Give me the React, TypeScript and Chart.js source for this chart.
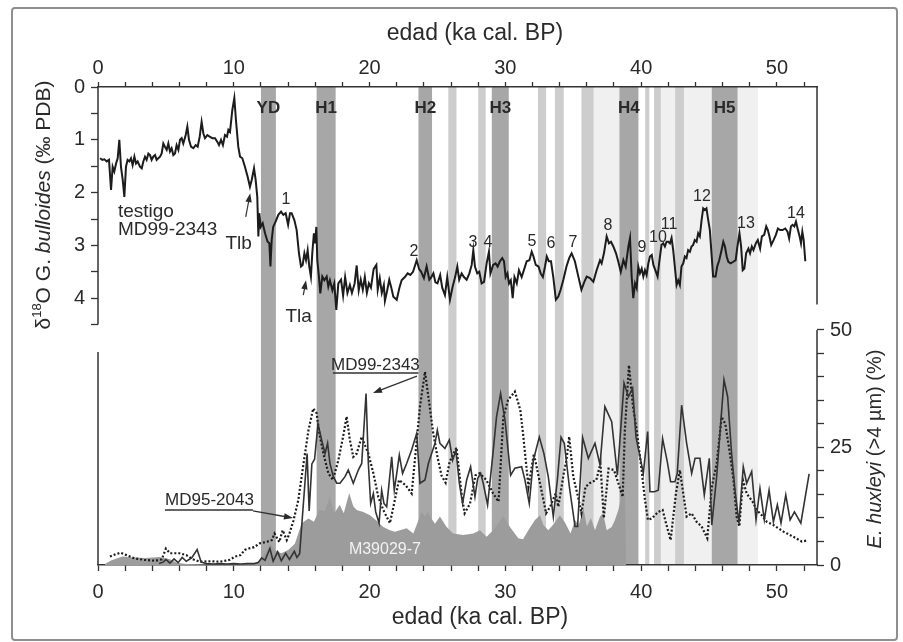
import React, { useEffect, useRef } from 'react';
import { Chart, registerables } from 'chart.js';

Chart.register(...registerables);

const FONT = '"Liberation Sans", Arial, Helvetica, sans-serif';
const INK = '#2a2a2a';

// ---- axes ----
const xMin = 0;
const xMax = 52.95;
const xTicks = [0, 2, 4, 6, 8, 10, 12, 14, 16, 18, 20, 22, 24, 26, 28, 30, 32, 34, 36, 38, 40, 42, 44, 46, 48, 50, 52];
const xTickLabels = [0, 10, 20, 30, 40, 50];

const d18Max = 9.053;
const d18Ticks = [0, 0.5, 1, 1.5, 2, 2.5, 3, 3.5, 4, 4.5];
const d18TickLabels = [0, 1, 2, 3, 4];

const huxMax = 101.7;
const huxTicks = [0, 5, 10, 15, 20, 25, 30, 35, 40, 45, 50];
const huxTickLabels = [0, 25, 50];

// ---- δ18O G. bulloides, core MD99-2343 ----
const d18Age = [
  0.15, 0.32, 0.47, 0.64, 0.81, 0.96, 1.08, 1.2, 1.33, 1.45, 1.57, 1.69, 1.82, 1.94, 2.06, 2.18, 2.31, 2.43, 2.55, 2.68,
  2.8, 2.92, 3.09, 3.22, 3.34, 3.46, 3.58, 3.71, 3.83, 3.95, 4.07, 4.2, 4.32, 4.44, 4.57, 4.69, 4.81, 4.93, 5.06, 5.18,
  5.3, 5.42, 5.55, 5.67, 5.79, 5.92, 6.04, 6.16, 6.28, 6.46, 6.58, 6.7, 6.85, 7.02, 7.19, 7.34, 7.49, 7.63, 7.76, 7.88,
  8.05, 8.22, 8.42, 8.62, 8.79, 8.91, 9.06, 9.2, 9.35, 9.5, 9.6, 9.72, 9.89, 10.04, 10.16, 10.33, 10.46, 10.63, 10.82, 11.02,
  11.19, 11.32, 11.49, 11.61, 11.73, 11.81, 11.88, 11.98, 12.13, 12.3, 12.49, 12.62, 12.7, 12.79, 12.9, 13.08, 13.28, 13.48, 13.65, 13.82,
  14.0, 14.14, 14.26, 14.46, 14.63, 14.8, 14.95, 15.07, 15.2, 15.32, 15.44, 15.56, 15.68, 15.78, 15.9, 15.98, 16.08, 16.15, 16.27, 16.37,
  16.52, 16.67, 16.84, 16.96, 17.08, 17.26, 17.4, 17.55, 17.7, 17.9, 18.05, 18.2, 18.37, 18.55, 18.7, 18.9, 19.05, 19.2, 19.35, 19.5,
  19.65, 19.8, 19.95, 20.1, 20.3, 20.5, 20.6, 20.75, 20.9, 21.05, 21.13, 21.3, 21.45, 21.6, 21.75, 22.0, 22.2, 22.36, 22.6, 22.8,
  23.0, 23.2, 23.47, 23.65, 23.8, 24.0, 24.2, 24.4, 24.55, 24.7, 24.85, 25.0, 25.2, 25.35, 25.55, 25.72, 25.92, 26.12, 26.3, 26.46,
  26.6, 26.78, 26.95, 27.15, 27.35, 27.52, 27.64, 27.76, 27.93, 28.08, 28.25, 28.43, 28.62, 28.79, 28.9, 29.1, 29.28, 29.43, 29.6, 29.77,
  29.9, 30.02, 30.15, 30.27, 30.4, 30.54, 30.67, 30.84, 31.0, 31.2, 31.4, 31.57, 31.77, 31.94, 32.07, 32.24, 32.44, 32.6, 32.76, 32.92,
  33.05, 33.2, 33.36, 33.53, 33.72, 33.9, 34.07, 34.27, 34.5, 34.7, 34.88, 35.12, 35.32, 35.6, 35.8, 35.99, 36.23, 36.48, 36.72, 36.97,
  37.09, 37.26, 37.46, 37.63, 37.78, 37.95, 38.15, 38.32, 38.5, 38.69, 38.86, 39.06, 39.18, 39.3, 39.42, 39.55, 39.67, 39.79, 39.91, 40.04,
  40.16, 40.28, 40.4, 40.53, 40.65, 40.78, 40.9, 41.09, 41.21, 41.34, 41.5, 41.63, 41.75, 41.87, 42.0, 42.12, 42.24, 42.36, 42.48, 42.61,
  42.73, 42.85, 42.97, 43.1, 43.22, 43.34, 43.46, 43.59, 43.71, 43.83, 43.95, 44.08, 44.2, 44.32, 44.45, 44.57, 44.69, 44.81, 44.94, 45.06,
  45.18, 45.3, 45.48, 45.6, 45.75, 45.92, 46.05, 46.17, 46.3, 46.42, 46.59, 46.79, 46.96, 47.09, 47.24, 47.36, 47.48, 47.6, 47.73, 47.9,
  48.02, 48.15, 48.27, 48.45, 48.59, 48.76, 48.89, 49.06, 49.21, 49.33, 49.45, 49.58, 49.75, 49.92, 50.07, 50.24, 50.41, 50.61, 50.78, 50.9,
  51.03, 51.15, 51.28, 51.4, 51.52, 51.67, 51.77, 51.87, 51.97, 52.09,
];
const d18Val = [
  1.35, 1.38, 1.37, 1.41, 1.38, 1.95, 1.51, 1.6, 1.45, 1.35, 1.0, 1.51, 1.76, 2.08, 1.51, 1.38, 1.41, 1.35, 1.48, 1.32,
  1.45, 1.41, 1.51, 1.54, 1.41, 1.32, 1.38, 1.26, 1.29, 1.38, 1.32, 1.29, 1.38, 1.35, 1.32, 1.26, 1.07, 1.13, 1.19, 1.07,
  1.22, 1.16, 1.29, 1.26, 1.1, 1.19, 1.0, 0.97, 1.07, 0.91, 0.75, 1.0, 1.13, 1.16, 1.1, 1.13, 0.94, 0.66, 0.88, 0.97,
  0.91, 0.94, 0.97, 0.97, 1.04, 1.1, 1.0, 1.1, 0.91, 0.94, 0.81, 0.85, 0.44, 0.21, 0.63, 1.13, 1.32, 1.35, 1.51, 1.7,
  1.89, 1.76, 1.54, 1.76, 2.08, 2.83, 2.39, 2.65, 2.58, 2.77, 2.93, 2.96, 3.4, 2.9, 2.65, 2.55, 2.42, 2.36, 2.42, 2.39,
  2.61, 2.39, 2.39, 2.52, 2.71, 3.15, 3.4, 3.37, 3.15, 3.28, 3.09, 3.4, 3.59, 3.15, 2.77, 2.96, 2.65, 3.28, 3.59, 3.91,
  3.59, 3.66, 3.59, 3.78, 3.66, 3.85, 3.72, 4.22, 3.72, 3.65, 3.95, 3.6, 3.9, 3.75, 3.9, 3.72, 3.38, 3.85, 3.65, 3.84,
  3.6, 3.9, 3.72, 3.8, 3.45, 3.37, 3.84, 3.62, 3.9, 3.75, 4.05, 3.85, 3.65, 3.8, 3.97, 4.03, 3.8, 3.66, 3.6, 3.53,
  3.56, 3.5, 3.28, 3.45, 3.5, 3.62, 3.4, 3.65, 3.6, 3.53, 3.7, 3.72, 3.56, 3.8, 3.94, 3.6, 4.03, 3.78, 3.6, 3.4,
  3.65, 3.53, 3.6, 3.65, 3.53, 3.37, 3.09, 3.4, 3.53, 3.5, 3.72, 3.69, 3.34, 3.12, 3.53, 3.37, 3.34, 3.4, 3.3, 3.24,
  3.3, 3.6, 3.53, 3.72, 3.66, 4.0, 3.6, 3.72, 3.47, 3.6, 3.44, 3.3, 3.28, 3.12, 3.21, 3.37, 3.4, 3.53, 3.6, 3.4,
  3.21, 3.3, 3.3, 3.6, 4.03, 3.97, 3.84, 3.65, 3.4, 3.24, 3.15, 3.3, 3.53, 3.84, 3.7, 3.59, 3.62, 3.69, 3.47, 3.28,
  3.34, 3.15, 2.83, 2.96, 2.93, 3.02, 3.15, 3.31, 3.5, 3.28, 3.4, 3.02, 2.86, 3.59, 4.0, 3.72, 3.81, 3.4, 3.53, 3.44,
  3.59, 3.47, 3.56, 3.34, 3.21, 3.18, 3.37, 3.5, 3.59, 3.3, 2.99, 2.96, 3.02, 2.93, 2.93, 2.96, 2.86, 3.09, 3.4, 3.75,
  3.66, 3.75, 3.4, 3.34, 3.21, 3.24, 3.09, 3.12, 3.02, 2.99, 2.9, 2.93, 2.77, 2.83, 2.52, 2.3, 2.33, 2.3, 2.52, 2.71,
  3.15, 3.59, 3.59, 3.4, 3.28, 3.09, 2.93, 3.02, 3.21, 3.31, 3.34, 3.31, 3.28, 3.02, 2.77, 3.02, 3.47, 3.44, 3.15, 3.06,
  3.15, 3.02, 3.09, 2.96, 2.9, 3.06, 2.83, 2.8, 2.64, 2.71, 2.83, 2.99, 2.9, 2.8, 2.68, 2.71, 2.71, 2.68, 2.74, 2.87,
  2.64, 2.61, 2.64, 2.55, 2.68, 2.83, 2.96, 2.74, 2.9, 3.3,
];

// ---- E. huxleyi (>4 µm) %, core MD99-2343 (solid) ----
const md99Age = [
  4.5, 4.8, 5.0, 5.3, 5.6, 5.9, 6.2, 6.5, 6.9, 7.3, 7.6, 8.0, 8.5, 9.0, 9.5, 10.0, 10.5, 11.0, 11.5, 11.8,
  12.05, 12.3, 12.66, 12.9, 13.23, 13.5, 13.82, 14.1, 14.46, 14.65, 14.85, 15.4, 15.55, 15.75, 15.95, 16.2, 16.47, 16.72, 16.91, 17.08,
  17.33, 17.58, 17.82, 18.19, 18.43, 18.8, 19.17, 19.42, 19.74, 19.91, 20.08, 20.28, 20.45, 20.7, 20.89, 21.06, 21.26, 21.63, 21.82, 22.0,
  22.19, 22.43, 22.73, 23.1, 23.47, 23.71, 24.08, 24.33, 24.57, 24.82, 24.99, 25.18, 25.55, 25.87, 26.12, 26.36, 26.61, 26.85, 27.15, 27.44,
  27.76, 27.96, 28.18, 28.37, 28.69, 29.06, 29.35, 29.65, 29.97, 30.39, 30.7, 31.2, 31.44, 31.76, 32.06, 32.5, 32.84, 33.16, 33.53, 33.83,
  34.1, 34.34, 34.71, 35.13, 35.32, 35.69, 36.11, 36.6, 36.97, 37.33, 37.83, 38.25, 38.74, 39.06, 39.37, 39.62, 39.87, 40.16, 40.48, 40.65,
  40.97, 41.26, 41.58, 41.93, 42.17, 42.49, 42.66, 42.98, 43.35, 43.72, 43.97, 44.33, 44.65, 45.02, 45.2, 45.56, 46.1, 46.37, 46.66, 46.91,
  47.2, 47.52, 47.77, 48.14, 48.46, 48.75, 49.07, 49.42, 49.74, 50.03, 50.3, 50.65, 50.97, 51.29, 51.76, 52.37,
];
const md99Val = [
  0.3, 0.6, 1.2, 0.4, 1.3, 0.5, 1.6, 0.8, 1.5, 3.3, 0.6, 0.3, 0.2, 0.3, 0.2, 0.3, 0.2, 0.3, 0.3, 0.5,
  1.5, 1.0, 3.5, 0.8, 2.8, 0.9, 2.5, 1.2, 2.9, 1.6, 2.4, 23.7, 11.5, 21.5, 22.5, 30.0, 26.6, 23.7, 25.9, 21.6,
  18.8, 17.4, 17.4, 18.8, 20.2, 17.4, 20.2, 21.6, 36.5, 21.6, 13.1, 15.2, 11.3, 8.9, 15.9, 13.1, 12.4, 23.0, 15.9, 19.5,
  23.4, 19.5, 21.6, 24.5, 28.0, 17.4, 18.1, 21.6, 23.7, 25.9, 28.7, 25.9, 24.8, 26.6, 22.3, 24.4, 17.4, 13.1, 18.1, 20.9,
  14.5, 18.4, 19.5, 17.4, 12.8, 23.0, 31.5, 36.5, 30.9, 19.1, 20.6, 20.9, 18.1, 13.1, 22.3, 27.2, 23.7, 18.8, 10.3, 18.1,
  27.2, 25.9, 16.7, 8.2, 8.2, 27.1, 22.7, 25.9, 21.3, 33.7, 30.5, 19.1, 38.7, 35.8, 37.6, 27.2, 23.7, 19.5, 28.4, 15.6,
  15.6, 15.9, 26.9, 21.9, 17.7, 17.7, 19.5, 34.0, 25.9, 19.5, 22.7, 22.7, 14.9, 22.7, 8.5, 18.8, 39.4, 35.8, 23.7, 15.9,
  8.9, 20.9, 17.4, 19.9, 9.6, 16.3, 9.6, 15.9, 9.2, 12.8, 8.9, 14.9, 9.6, 11.3, 8.9, 19.4,
];

// ---- E. huxleyi (>4 µm) %, core MD95-2043 (dotted) ----
const md95Age = [
  0.88, 1.3, 1.66, 2.1, 2.7, 3.4, 4.2, 4.7, 5.0, 5.3, 6.0, 6.5, 7.0, 7.5, 8.3, 9.0, 9.7, 10.1, 10.5, 10.8,
  11.1, 11.5, 11.9, 12.4, 12.8, 13.0, 13.35, 13.6, 13.9, 14.1, 14.4, 14.75, 15.1, 15.5, 15.85, 16.1, 16.3, 16.6, 16.97, 17.3,
  17.7, 18.05, 18.31, 18.55, 18.8, 19.05, 19.42, 19.6, 19.91, 20.28, 20.64, 21.01, 21.5, 22.17, 22.65, 23.1, 23.71, 24.08, 24.33, 24.69,
  25.0, 25.3, 25.6, 25.9, 26.4, 26.8, 27.0, 27.4, 27.8, 28.1, 28.6, 29.1, 29.5, 29.85, 30.2, 30.7, 31.1, 31.3, 31.7, 32.1,
  32.5, 32.8, 33.0, 33.3, 33.7, 33.9, 34.3, 34.5, 34.7, 35.0, 35.4, 35.6, 35.9, 36.2, 36.7, 37.0, 37.25, 37.6, 38.0, 38.3,
  38.64, 38.8, 39.1, 39.4, 39.67, 40.0, 40.28, 40.5, 40.78, 41.26, 41.58, 41.83, 42.17, 42.56, 42.85, 43.35, 43.72, 44.08, 44.45, 44.87,
  45.2, 45.56, 45.93, 46.2, 46.5, 46.8, 47.03, 47.23, 47.5, 47.77, 48.2, 48.51, 48.88, 49.25, 49.74, 50.48, 51.21, 51.83, 52.2,
];
const md95Val = [
  1.8, 2.3, 2.6, 2.1, 1.4, 1.1, 0.9, 1.2, 3.5, 2.5, 2.5, 2.1, 1.2, 0.7, 0.8, 0.7, 1.1, 1.8, 2.1, 3.2,
  3.5, 3.8, 4.6, 4.9, 5.3, 6.7, 4.9, 7.4, 5.3, 6.7, 9.5, 13.8, 20.9, 28.7, 33.3, 32.3, 28.0, 23.7, 19.5, 18.1,
  22.3, 27.3, 31.6, 26.6, 23.0, 23.7, 27.3, 25.9, 23.7, 19.5, 14.5, 11.7, 8.9, 18.1, 17.0, 15.2, 33.7, 41.1, 35.8, 28.0,
  23.0, 19.0, 17.5, 22.0, 25.0, 14.5, 11.0, 13.1, 19.1, 19.5, 18.1, 15.2, 13.5, 31.5, 35.1, 36.9, 33.0, 28.0, 16.6, 23.7,
  18.1, 13.9, 11.0, 12.4, 15.2, 12.4, 19.5, 22.3, 27.3, 18.8, 13.9, 11.0, 16.6, 17.4, 18.1, 21.6, 10.0, 20.5, 20.2, 17.6,
  14.5, 28.7, 42.5, 33.7, 28.7, 21.0, 13.9, 9.6, 9.9, 11.3, 11.7, 8.9, 5.3, 15.2, 20.2, 10.3, 11.0, 9.2, 8.2, 5.7,
  16.6, 21.6, 31.5, 30.0, 24.4, 18.1, 10.3, 8.2, 18.0, 15.2, 13.5, 11.7, 10.6, 9.2, 8.5, 7.1, 6.0, 5.0, 5.2,
];

// ---- E. huxleyi (>4 µm) %, core M39029-7 (grey area) ----
const m39Age = [
  0.5, 1.0, 1.8, 2.6, 3.5, 4.5, 5.3, 5.8, 6.5, 8.0, 11.5, 12.0, 12.7, 13.0, 13.5, 14.0, 14.5, 15.0, 15.5, 15.9,
  16.3, 16.7, 17.08, 17.4, 17.8, 18.1, 18.5, 18.8, 19.05, 19.54, 20.03, 20.52, 21.01, 21.5, 21.87, 22.24, 22.73, 23.22, 23.5, 23.83,
  24.08, 24.3, 24.45, 24.82, 25.18, 25.67, 26.16, 26.9, 27.64, 28.13, 28.62, 29.1, 29.85, 30.34, 30.95, 31.3, 31.69, 32.18, 32.55, 32.8,
  33.16, 33.5, 34.02, 34.4, 34.8, 35.13, 35.4, 35.75, 36.0, 36.3, 36.6, 36.97, 37.2, 37.46, 37.83, 38.07, 38.32, 38.56, 38.81, 38.9,
];
const m39Val = [
  0.2, 1.0, 1.8, 1.6, 1.5, 1.7, 1.2, 0.5, 0.2, 0.1, 0.2, 1.2, 4.5, 3.2, 2.5, 3.2, 4.5, 8.9, 9.9, 9.2,
  11.7, 11.5, 14.5, 11.0, 12.8, 11.0, 15.3, 12.5, 11.7, 11.3, 10.6, 9.4, 8.1, 7.4, 7.1, 7.4, 7.8, 6.7, 8.8, 11.3,
  10.3, 11.3, 10.3, 8.8, 10.3, 8.1, 6.7, 6.4, 6.7, 7.4, 6.0, 7.4, 10.3, 8.1, 5.7, 5.5, 7.4, 9.6, 10.6, 8.5,
  7.4, 8.5, 10.6, 9.0, 6.7, 9.6, 8.5, 12.1, 8.2, 10.0, 7.4, 10.3, 11.0, 7.4, 8.1, 9.6, 11.7, 14.5, 15.2, 0,
];

// ---- shaded intervals (ka): 0 = Heinrich/YD event, 1 = stadial band, 2 = faint band ----
const bandStart = [12.0, 16.1, 23.6, 29.0, 38.4, 45.2, 25.8, 28.0, 32.4, 33.65, 35.6, 40.3, 40.95, 42.5, 36.5, 41.45, 43.15, 47.1];
const bandEnd = [13.1, 17.5, 24.6, 30.25, 39.8, 47.1, 26.4, 28.55, 33.0, 34.3, 36.5, 40.6, 41.45, 43.15, 38.4, 42.5, 45.2, 48.6];
const bandKind = [0, 0, 0, 0, 0, 0, 1, 1, 1, 1, 1, 1, 1, 1, 2, 2, 2, 2];
const eventNames = ['YD', 'H1', 'H2', 'H3', 'H4', 'H5'];

// ---- numbered isotope events ----
const stageNames = ['1', '2', '3', '4', '5', '6', '7', '8', '9', '10', '11', '12', '13', '14'];
const stageAge = [13.84, 23.27, 27.61, 28.72, 31.96, 33.36, 34.98, 37.56, 40.06, 41.24, 42.05, 44.48, 47.72, 51.4];
const stageVal = [2.14, 3.11, 2.94, 2.94, 2.92, 2.97, 2.95, 2.63, 3.05, 2.86, 2.61, 2.08, 2.58, 2.39];

const pts = (xs: number[], ys: number[]) => xs.map((x, i) => ({ x, y: ys[i] }));

type Run = { t: string; size: number; style?: string; dy?: number };

function drawRuns(ctx: CanvasRenderingContext2D, runs: Run[], cx: number, cy: number, rot: number) {
  ctx.save();
  ctx.translate(cx, cy);
  ctx.rotate(rot);
  ctx.textBaseline = 'middle';
  ctx.textAlign = 'left';
  let total = 0;
  const widths = runs.map((r) => {
    ctx.font = `${r.style || ''} ${r.size}px ${FONT}`;
    const w = ctx.measureText(r.t).width;
    total += w;
    return w;
  });
  let x = -total / 2;
  runs.forEach((r, i) => {
    ctx.font = `${r.style || ''} ${r.size}px ${FONT}`;
    ctx.fillText(r.t, x, r.dy || 0);
    x += widths[i];
  });
  ctx.restore();
}

function arrow(ctx: CanvasRenderingContext2D, x1: number, y1: number, x2: number, y2: number) {
  const ang = Math.atan2(y2 - y1, x2 - x1);
  const L = 9;
  const W = 3.2;
  ctx.beginPath();
  ctx.moveTo(x1, y1);
  ctx.lineTo(x2 - Math.cos(ang) * L * 0.8, y2 - Math.sin(ang) * L * 0.8);
  ctx.stroke();
  ctx.beginPath();
  ctx.moveTo(x2, y2);
  ctx.lineTo(x2 - Math.cos(ang) * L - Math.sin(ang) * W, y2 - Math.sin(ang) * L + Math.cos(ang) * W);
  ctx.lineTo(x2 - Math.cos(ang) * L + Math.sin(ang) * W, y2 - Math.sin(ang) * L - Math.cos(ang) * W);
  ctx.closePath();
  ctx.fill();
}

const bandColors = ['#a7a7a7', '#cdcdcd', '#f0f0f0'];

const decor = {
  id: 'decor',
  beforeDraw(chart: any) {
    const { ctx, chartArea: a, scales } = chart;
    const x = scales.x;
    ctx.save();
    ctx.fillStyle = '#ffffff';
    ctx.fillRect(0, 0, chart.width, chart.height);
    // outer frame
    ctx.strokeStyle = '#8f8f8f';
    ctx.lineWidth = 2;
    ctx.beginPath();
    ctx.roundRect(12, 8, 885, 632, 3);
    ctx.stroke();
    // shaded bands (faint first)
    [2, 1, 0].forEach((kind) => {
      bandStart.forEach((s, i) => {
        if (bandKind[i] !== kind) return;
        const x0 = x.getPixelForValue(s);
        const x1 = x.getPixelForValue(bandEnd[i]);
        ctx.fillStyle = bandColors[kind];
        ctx.fillRect(x0, a.top, x1 - x0, a.bottom - a.top);
      });
    });
    ctx.restore();
  },
  afterDraw(chart: any) {
    const { ctx, chartArea: a, scales } = chart;
    const x = scales.x;
    const y1 = scales.y1;
    const y2 = scales.y2;
    ctx.save();
    // split vertical axis lines
    ctx.strokeStyle = '#333';
    ctx.lineWidth = 1.5;
    ctx.beginPath();
    ctx.moveTo(a.left, y1.getPixelForValue(0));
    ctx.lineTo(a.left, y1.getPixelForValue(4.5));
    ctx.moveTo(a.left, y2.getPixelForValue(45.3));
    ctx.lineTo(a.left, y2.getPixelForValue(0));
    ctx.moveTo(a.right, y1.getPixelForValue(0));
    ctx.lineTo(a.right, y1.getPixelForValue(4.12));
    ctx.moveTo(a.right, y2.getPixelForValue(50));
    ctx.lineTo(a.right, y2.getPixelForValue(0));
    ctx.stroke();

    ctx.fillStyle = INK;
    // axis titles
    drawRuns(ctx, [{ t: 'edad (ka cal. BP)', size: 23 }], 475, 34, 0);
    drawRuns(ctx, [{ t: 'edad (ka cal. BP)', size: 23 }], 480, 618, 0);
    drawRuns(
      ctx,
      [
        { t: 'δ', size: 21 },
        { t: '18', size: 13, dy: -7 },
        { t: 'O G. ', size: 21 },
        { t: 'bulloides', size: 21, style: 'italic' },
        { t: ' (‰ PDB)', size: 21 },
      ],
      44,
      205,
      -Math.PI / 2
    );
    drawRuns(
      ctx,
      [
        { t: 'E. huxleyi', size: 20, style: 'italic' },
        { t: ' (>4 µm) (%)', size: 20 },
      ],
      875,
      449,
      -Math.PI / 2
    );

    // event labels
    ctx.textAlign = 'center';
    ctx.textBaseline = 'middle';
    ctx.font = `bold 17px ${FONT}`;
    eventNames.forEach((n, i) => {
      const cx = x.getPixelForValue((bandStart[i] + bandEnd[i]) / 2);
      ctx.fillText(n, cx, y1.getPixelForValue(0.4));
    });
    // numbered events
    ctx.font = `16px ${FONT}`;
    stageNames.forEach((n, i) => {
      ctx.fillText(n, x.getPixelForValue(stageAge[i]), y1.getPixelForValue(stageVal[i]));
    });

    // core label (upper panel)
    ctx.font = `19px ${FONT}`;
    ctx.textAlign = 'left';
    ctx.fillText('testigo', x.getPixelForValue(1.47), y1.getPixelForValue(2.37));
    ctx.fillText('MD99-2343', x.getPixelForValue(1.47), y1.getPixelForValue(2.71));
    ctx.textAlign = 'center';
    ctx.fillText('Tlb', x.getPixelForValue(10.36), y1.getPixelForValue(2.96));
    ctx.fillText('Tla', x.getPixelForValue(14.78), y1.getPixelForValue(4.35));

    ctx.strokeStyle = '#333';
    ctx.lineWidth = 1.2;
    arrow(ctx, x.getPixelForValue(10.88), y1.getPixelForValue(2.46), x.getPixelForValue(11.21), y1.getPixelForValue(2.01));
    arrow(ctx, x.getPixelForValue(15.12), y1.getPixelForValue(3.94), x.getPixelForValue(15.32), y1.getPixelForValue(3.66));

    // lower panel labels
    ctx.font = `17px ${FONT}`;
    ctx.fillText('MD99-2343', x.getPixelForValue(20.43), y2.getPixelForValue(42.55));
    ctx.fillText('MD95-2043', x.getPixelForValue(8.21), y2.getPixelForValue(13.83));
    ctx.lineWidth = 1.3;
    ctx.beginPath();
    ctx.moveTo(x.getPixelForValue(17.3), y2.getPixelForValue(40.85));
    ctx.lineTo(x.getPixelForValue(23.6), y2.getPixelForValue(40.85));
    ctx.moveTo(x.getPixelForValue(4.93), y2.getPixelForValue(11.7));
    ctx.lineTo(x.getPixelForValue(11.41), y2.getPixelForValue(11.7));
    ctx.stroke();
    arrow(ctx, x.getPixelForValue(23.49), y2.getPixelForValue(40.2), x.getPixelForValue(20.25), y2.getPixelForValue(36.6));
    arrow(ctx, x.getPixelForValue(11.41), y2.getPixelForValue(11.5), x.getPixelForValue(14.36), y2.getPixelForValue(10.0));

    ctx.fillStyle = '#f2f2f2';
    ctx.font = `16px ${FONT}`;
    ctx.fillText('M39029-7', x.getPixelForValue(21.13), y2.getPixelForValue(3.2));
    ctx.restore();
  },
};

const tickFont = { family: FONT, size: 20 };

function xAxis(position: 'top' | 'bottom', height: number, padding: number, tickLength: number) {
  return {
    type: 'linear' as const,
    position,
    min: xMin,
    max: xMax,
    bounds: 'data' as const,
    afterBuildTicks: (s: any) => {
      s.ticks = xTicks.map((v) => ({ value: v }));
    },
    afterFit: (s: any) => {
      s.height = height;
    },
    ticks: {
      autoSkip: false,
      maxRotation: 0,
      padding,
      color: INK,
      font: tickFont,
      callback: (v: any) => (xTickLabels.includes(Number(v)) ? String(v) : ''),
    },
    grid: { display: true, drawOnChartArea: false, drawTicks: true, tickLength, tickColor: '#333', tickWidth: 1.3 },
    border: { display: true, color: '#333', width: 1.5 },
  };
}

export default function App() {
  const ref = useRef<HTMLCanvasElement>(null);
  useEffect(() => {
    if (!ref.current) return;
    const chart = new Chart(ref.current, {
      type: 'line',
      data: {
        datasets: [
          {
            label: 'δ18O MD99-2343',
            data: pts(d18Age, d18Val),
            xAxisID: 'x',
            yAxisID: 'y1',
            borderColor: '#1c1c1c',
            borderWidth: 2,
            pointRadius: 0,
            fill: false,
            tension: 0,
            order: 1,
          },
          {
            label: 'MD99-2343',
            data: pts(md99Age, md99Val),
            xAxisID: 'x',
            yAxisID: 'y2',
            borderColor: '#333333',
            borderWidth: 1.6,
            pointRadius: 0,
            fill: false,
            tension: 0,
            order: 2,
          },
          {
            label: 'MD95-2043',
            data: pts(md95Age, md95Val),
            xAxisID: 'x',
            yAxisID: 'y2',
            borderColor: '#1c1c1c',
            borderWidth: 2.2,
            borderDash: [2, 2],
            pointRadius: 0,
            fill: false,
            tension: 0,
            order: 3,
          },
          {
            label: 'M39029-7',
            data: pts(m39Age, m39Val),
            xAxisID: 'x',
            yAxisID: 'y2',
            borderColor: '#9c9c9c',
            borderWidth: 0,
            backgroundColor: '#9c9c9c',
            pointRadius: 0,
            fill: 'origin',
            tension: 0,
            order: 10,
          },
        ],
      },
      options: {
        animation: false,
        responsive: false,
        devicePixelRatio: 1,
        layout: { padding: 0 },
        plugins: { legend: { display: false }, tooltip: { enabled: false } },
        events: [],
        scales: {
          x: xAxis('bottom', 77, 9, 6),
          x2: xAxis('top', 87, 2, 5),
          y1: {
            type: 'linear',
            position: 'left',
            reverse: true,
            min: 0,
            max: d18Max,
            bounds: 'data',
            afterBuildTicks: (s: any) => {
              s.ticks = d18Ticks.map((v) => ({ value: v }));
            },
            afterFit: (s: any) => {
              s.width = 98;
            },
            ticks: {
              autoSkip: false,
              padding: 6,
              color: INK,
              font: tickFont,
              callback: (v: any) => (d18TickLabels.includes(Number(v)) ? String(v) : ''),
            },
            grid: { display: true, drawOnChartArea: false, drawTicks: true, tickLength: 7, tickColor: '#333', tickWidth: 1.3 },
            border: { display: false },
          },
          y2: {
            type: 'linear',
            position: 'right',
            min: 0,
            max: huxMax,
            bounds: 'data',
            afterBuildTicks: (s: any) => {
              s.ticks = huxTicks.map((v) => ({ value: v }));
            },
            afterFit: (s: any) => {
              s.width = 86;
            },
            ticks: {
              autoSkip: false,
              padding: 6,
              color: INK,
              font: tickFont,
              callback: (v: any) => (huxTickLabels.includes(Number(v)) ? String(v) : ''),
            },
            grid: { display: true, drawOnChartArea: false, drawTicks: true, tickLength: 7, tickColor: '#333', tickWidth: 1.3 },
            border: { display: false },
          },
        },
      },
      plugins: [decor],
    });
    return () => chart.destroy();
  }, []);
  return (
    <div style={{ position: 'absolute', left: 0, top: 0, width: 903, height: 642, background: '#fff' }}>
      <canvas ref={ref} width={903} height={642} style={{ display: 'block' }} />
    </div>
  );
}
